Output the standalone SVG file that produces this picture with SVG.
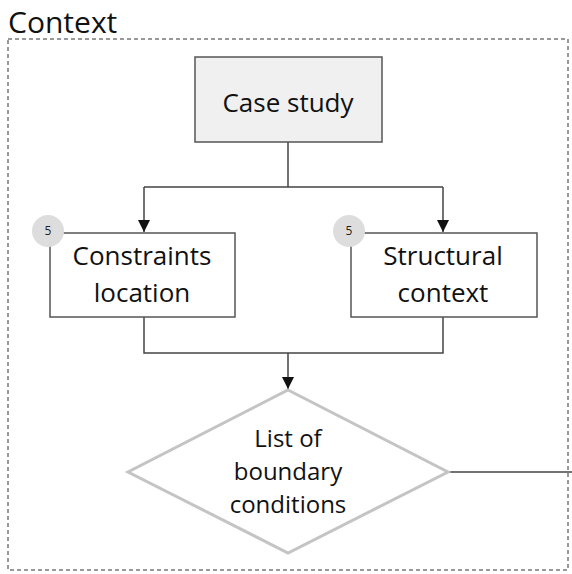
<svg xmlns="http://www.w3.org/2000/svg" width="572" height="574" viewBox="0 0 572 574">
<defs>
<style>
text{font-family:"Open Sans",Lato,sans-serif;fill:#111;text-anchor:middle}
.box{fill:#fff;stroke:#555;stroke-width:1.5}
.conn{fill:none;stroke:#444;stroke-width:1.5}
.badge{fill:#ddd}
.bt{font-size:12px;fill:#222}
.lbl{font-size:26px}
.dl{font-size:24px}
</style>
<marker id="arr" viewBox="0 0 12 12" refX="12" refY="6" markerWidth="12" markerHeight="12" markerUnits="userSpaceOnUse" orient="auto">
<path d="M0,0 L12,6 L0,12 z" fill="#111"/>
</marker>
</defs>
<rect width="572" height="574" fill="#fff"/>
<g id="context">
<rect x="8" y="39" width="560" height="531" fill="none" stroke="#333" stroke-width="1" stroke-dasharray="4,3"/>
<text x="8" y="33" style="text-anchor:start;font-size:30px">Context</text>
</g>
<g id="connectors">
<path class="conn" d="M288,142 V187 M144,187 H443 M144,187 V232" marker-end="url(#arr)"/>
<path class="conn" d="M443,187 V232" marker-end="url(#arr)"/>
<path class="conn" d="M144,317 V353 H443 V317"/>
<path class="conn" d="M288,353 V389" marker-end="url(#arr)"/>
<path class="conn" d="M448,472 H572" stroke="#777"/>
</g>
<g id="case-study">
<rect x="195" y="57" width="187" height="85" fill="#f0f0f0" stroke="#555" stroke-width="1.5"/>
<text class="lbl" x="288" y="112">Case study</text>
</g>
<g id="constraints-location">
<rect class="box" x="50" y="233" width="185" height="84"/>
<circle class="badge" cx="48" cy="231" r="16"/>
<text class="bt" x="48" y="235">5</text>
<text class="lbl" x="142" y="265">Constraints</text>
<text class="lbl" x="142" y="302">location</text>
</g>
<g id="structural-context">
<rect class="box" x="351" y="233" width="186" height="84"/>
<circle class="badge" cx="349" cy="231" r="16"/>
<text class="bt" x="349" y="235">5</text>
<text class="lbl" x="443" y="265">Structural</text>
<text class="lbl" x="443" y="302">context</text>
</g>
<g id="boundary-conditions">
<polygon points="288,390 448,472 288,553 128,472" fill="#fff" stroke="#c4c4c4" stroke-width="3"/>
<text class="dl" x="288" y="447">List of</text>
<text class="dl" x="288" y="480">boundary</text>
<text class="dl" x="288" y="513">conditions</text>
</g>
</svg>
